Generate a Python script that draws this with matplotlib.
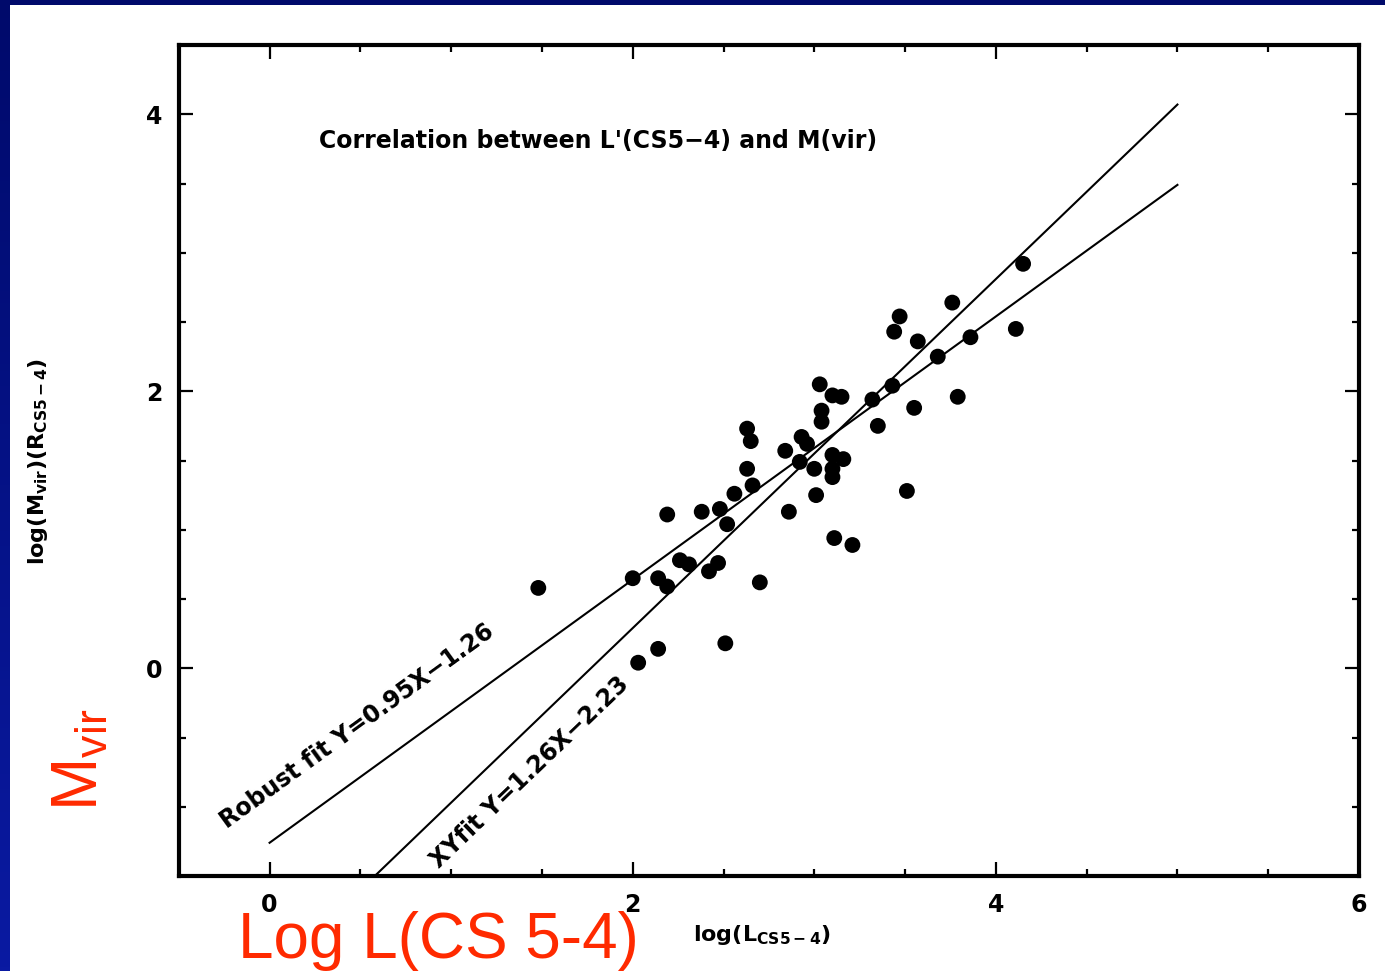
import numpy as np
import matplotlib
matplotlib.use("Agg")
import matplotlib.pyplot as plt
from matplotlib.ticker import MultipleLocator, FixedLocator

# log L'(CS5-4) and log M(vir) for each source
log_l = [1.48, 2.00, 2.03, 2.14, 2.14, 2.19, 2.19, 2.26, 2.31, 2.38,
         2.42, 2.47, 2.48, 2.51, 2.52, 2.56, 2.63, 2.63, 2.65, 2.66,
         2.70, 2.84, 2.86, 2.93, 2.96, 2.92, 3.00, 3.01, 3.03, 3.04,
         3.04, 3.10, 3.15, 3.10, 3.16, 3.10, 3.10, 3.11, 3.21, 3.32,
         3.35, 3.43, 3.44, 3.47, 3.51, 3.55, 3.57, 3.68, 3.76, 3.79,
         3.86, 4.11, 4.15]
log_m = [0.58, 0.65, 0.04, 0.14, 0.65, 0.59, 1.11, 0.78, 0.75, 1.13,
         0.70, 0.76, 1.15, 0.18, 1.04, 1.26, 1.44, 1.73, 1.64, 1.32,
         0.62, 1.57, 1.13, 1.67, 1.62, 1.49, 1.44, 1.25, 2.05, 1.86,
         1.78, 1.97, 1.96, 1.54, 1.51, 1.44, 1.38, 0.94, 0.89, 1.94,
         1.75, 2.04, 2.43, 2.54, 1.28, 1.88, 2.36, 2.25, 2.64, 1.96,
         2.39, 2.45, 2.92]

# fitted relations: (slope, intercept)
robust_fit = (0.95, -1.26)
xy_fit = (1.26, -2.23)
fit_range = [0, 5]

W, H = 1385, 971
fig = plt.figure(figsize=(W / 100, H / 100), dpi=100)
fig.patch.set_facecolor("white")

# slide frame: dark band on top, blue gradient on the left
top = fig.add_axes([0, 1 - 5 / H, 1, 5 / H])
top.set_facecolor("#000a6b")
top.set_xticks([])
top.set_yticks([])
for s in top.spines.values():
    s.set_visible(False)
side = fig.add_axes([0, 0, 10 / W, 1])
grad = np.linspace(0, 1, 256).reshape(-1, 1)
cmap = matplotlib.colors.LinearSegmentedColormap.from_list("frame", ["#0a1aa2", "#000a6b"])
side.imshow(grad, aspect="auto", cmap=cmap, origin="lower", extent=[0, 1, 0, 1])
side.set_axis_off()

ax = fig.add_axes([178.8 / W, 1 - 876 / H, (1359 - 178.8) / W, (876 - 45) / H])
ax.set_xlim(-0.5, 6)
ax.set_ylim(-1.5, 4.5)

ax.scatter(log_l, log_m, s=130, color="black", edgecolors="none", zorder=3)

xs = np.array(fit_range, dtype=float)
ax.plot(xs, robust_fit[0] * xs + robust_fit[1], color="black", lw=1.5)
ax.plot(xs, xy_fit[0] * xs + xy_fit[1], color="black", lw=1.5)

txt = dict(fontsize=17, fontweight="bold", family="DejaVu Sans")
ax.text(1.81, 3.81, "Correlation between L'(CS5\u22124) and M(vir)",
        ha="center", va="center", **txt)
ax.text(0.48, -0.42, f"Robust fit Y={robust_fit[0]:.2f}X\u2212{-robust_fit[1]:.2f}",
        ha="center", va="center", rotation=35.9, rotation_mode="anchor", **txt)
ax.text(1.43, -0.75, f"XYfit Y={xy_fit[0]:.2f}X\u2212{-xy_fit[1]:.2f}",
        ha="center", va="center", rotation=43.8, rotation_mode="anchor", **txt)

for s in ax.spines.values():
    s.set_linewidth(3)
ax.xaxis.set_major_locator(FixedLocator([0, 2, 4, 6]))
ax.xaxis.set_minor_locator(MultipleLocator(0.5))
ax.yaxis.set_major_locator(FixedLocator([0, 2, 4]))
ax.yaxis.set_minor_locator(MultipleLocator(0.5))
ax.tick_params(which="both", direction="in", top=True, right=True, width=1.6)
ax.tick_params(which="major", length=10, pad=12, labelsize=17)
ax.tick_params(which="minor", length=5)
for lab in ax.get_xticklabels() + ax.get_yticklabels():
    lab.set_fontweight("bold")

fig.text(38 / W, 1 - 461 / H, r"log(M$_{\mathbf{vir}}$)(R$_{\mathbf{CS5-4}}$)",
         rotation=90, ha="center", va="center", fontsize=16, fontweight="bold")
fig.text(762 / W, 1 - 935 / H, r"log(L$_{\mathbf{CS5-4}}$)",
         ha="center", va="center", fontsize=16, fontweight="bold")

# red annotations in Arial-like font
plt.rcParams["mathtext.fontset"] = "custom"
plt.rcParams["mathtext.rm"] = "Liberation Sans"
red = "#ff2a00"
fig.text(238 / W, 1 - 958 / H, "Log L(CS 5-4)", color=red, fontsize=46,
         family="Liberation Sans", ha="left", va="baseline")
fig.text(110 / W, 1 - 760 / H, r"M$_{\mathrm{vir}}$", color=red, fontsize=46,
         family="Liberation Sans", rotation=90, ha="right", va="center")

fig.savefig("out.png", dpi=100)
